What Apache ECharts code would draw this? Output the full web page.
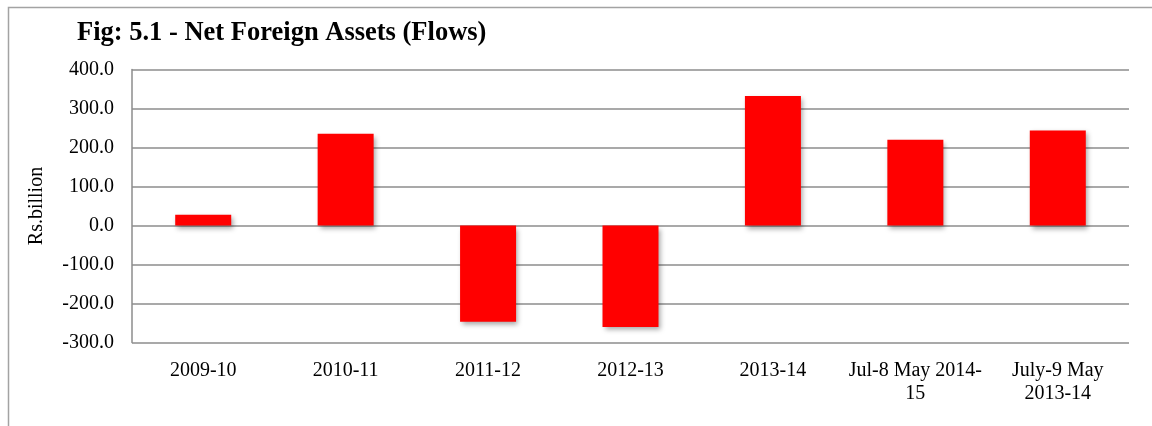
<!DOCTYPE html>
<html>
<head>
<meta charset="utf-8">
<style>
  html, body { margin: 0; padding: 0; background: #ffffff; }
  #chart { width: 1152px; height: 426px; }
</style>
<script src="https://cdn.jsdelivr.net/npm/echarts@6/dist/echarts.min.js"></script>
</head>
<body>
<div id="chart"></div>
<script>
// Net foreign assets, flows per period (Rs. billion)
const categories = ['2009-10', '2010-11', '2011-12', '2012-13', '2013-14', 'Jul-8 May 2014-\n15', 'July-9 May\n2013-14'];
const netForeignAssets = [27.3, 235.0, -246.8, -260.5, 332.0, 219.7, 243.7];
const yTicks = { min: -300, max: 400, step: 100 };

const serif = '"Liberation Serif", "Times New Roman", serif';
const gridGrey = '#8c8c8c';

const chart = echarts.init(document.getElementById('chart'));
chart.setOption({
  backgroundColor: '#ffffff',
  animation: false,
  title: {
    text: 'Fig: 5.1 - Net Foreign Assets (Flows)',
    left: 72,
    top: 15,
    textStyle: { fontFamily: serif, fontSize: 26.5, fontWeight: 'bold', color: '#000000' }
  },
  graphic: [{
    type: 'rect',
    shape: { x: 8.5, y: 7.5, width: 1300, height: 600 },
    style: { fill: 'none', stroke: '#a3a3a3', lineWidth: 1.5 },
    silent: true
  }],
  grid: { left: 132, right: 23, top: 69.5, bottom: 83.5 },
  xAxis: {
    type: 'category',
    data: categories,
    position: 'bottom',
    axisLine: { show: false, onZero: false },
    axisTick: { show: false },
    axisLabel: {
      fontFamily: serif, fontSize: 20, color: '#000000',
      margin: 17, lineHeight: 23, interval: 0
    }
  },
  yAxis: {
    type: 'value',
    min: yTicks.min,
    max: yTicks.max,
    interval: yTicks.step,
    name: 'Rs.billion',
    nameLocation: 'middle',
    nameGap: 85,
    nameRotate: 90,
    nameTextStyle: { fontFamily: serif, fontSize: 20, color: '#000000' },
    axisLine: { show: true, lineStyle: { color: gridGrey, width: 1.5 } },
    axisTick: { show: false },
    axisLabel: {
      fontFamily: serif, fontSize: 20, color: '#000000', margin: 18,
      formatter: v => v.toFixed(1)
    },
    splitLine: { show: true, lineStyle: { color: gridGrey, width: 1.5 } }
  },
  series: [{
    type: 'bar',
    data: netForeignAssets,
    barWidth: 56,
    itemStyle: {
      color: '#ff0000',
      shadowColor: 'rgba(0,0,0,0.35)',
      shadowBlur: 5,
      shadowOffsetX: 2,
      shadowOffsetY: 3
    }
  }]
});
</script>
</body>
</html>
